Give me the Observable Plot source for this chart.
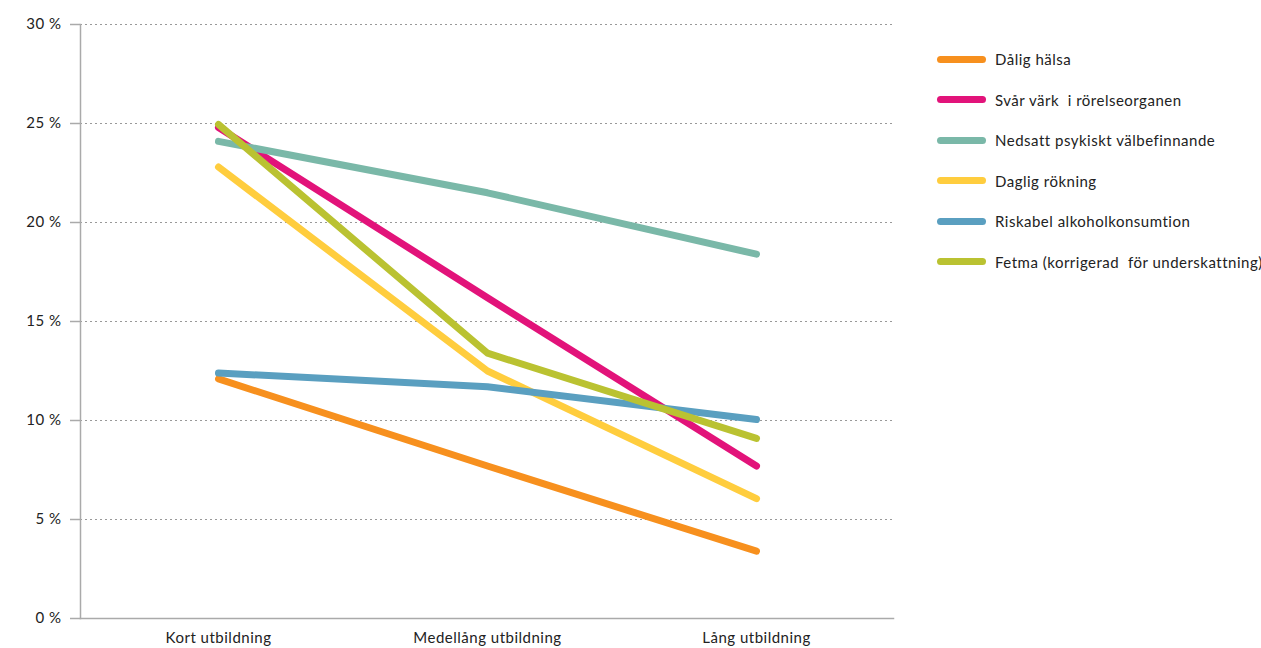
<!DOCTYPE html>
<html><head><meta charset="utf-8">
<script src="https://cdn.jsdelivr.net/npm/d3@7"></script>
<script src="https://cdn.jsdelivr.net/npm/@observablehq/plot@0.6"></script>
<style>
body{margin:0;background:#fff;font-family:Lato,"Open Sans",sans-serif;}
#wrap{position:relative;width:1261px;height:648px;}
#chart{position:absolute;left:0;top:0;}
#chart text{letter-spacing:0.5px;}
#legend{position:absolute;left:937px;top:39px;}
.item{display:flex;align-items:center;height:40.5px;font-size:15px;letter-spacing:0.5px;color:#222;white-space:pre;}
.sw{width:49px;height:7px;border-radius:4px;margin-right:9px;}
</style>
</head><body>
<div id="wrap"><div id="chart"></div><div id="legend"></div></div>
<script>
const categories = ["Kort utbildning", "Medellång utbildning", "Lång utbildning"];
const seriesNames = ["Dålig hälsa", "Svår värk  i rörelseorganen", "Nedsatt psykiskt välbefinnande", "Daglig rökning", "Riskabel alkoholkonsumtion", "Fetma (korrigerad  för underskattning)"];
const colors = ["#F7901E", "#E2137A", "#7AB8A8", "#FFCD3E", "#5A9FC0", "#BAC231"];
const daligHalsa = [12.1, 7.7, 3.4];
const svarVark = [24.8, 16.2, 7.7];
const nedsatt = [24.1, 21.5, 18.4];
const dagligRokning = [22.8, 12.5, 6.05];
const riskabel = [12.4, 11.7, 10.05];
const fetma = [24.95, 13.4, 9.1];
const yTicks = [0, 5, 10, 15, 20, 25, 30];

const allValues = [daligHalsa, svarVark, nedsatt, dagligRokning, riskabel, fetma];
const data = [];
seriesNames.forEach((s, i) => categories.forEach((c, j) => data.push({series: s, cat: c, v: allValues[i][j]})));

const chart = Plot.plot({
  width: 910, height: 648,
  marginLeft: 80, marginRight: 17, marginTop: 24, marginBottom: 30,
  style: {fontFamily: "Lato, 'Open Sans', sans-serif", fontSize: "15px", color: "#222", background: "transparent"},
  x: {type: "point", domain: categories, padding: 0.507, label: null},
  y: {domain: [0, 30], label: null},
  color: {domain: seriesNames, range: colors},
  marks: [
    Plot.gridY(yTicks.filter(d => d > 0), {stroke: "#999", strokeOpacity: 1, strokeDasharray: "2,3"}),
    Plot.frame({anchor: "left", stroke: "#aaa", strokeWidth: 1.5}),
    Plot.frame({anchor: "bottom", stroke: "#aaa", strokeWidth: 1.5}),
    Plot.axisY({ticks: yTicks, tickSize: 10, tickPadding: 9, tickFormat: d => d + " %", stroke: "#aaa", strokeWidth: 1.5, fill: "#222", fontSize: 15}),
    Plot.axisX({tickSize: 0, tickPadding: 14, fill: "#222", fontSize: 15}),
    Plot.line(data, {x: "cat", y: "v", z: "series", stroke: "series", strokeWidth: 7, strokeLinecap: "round", strokeLinejoin: "round"})
  ]
});
document.getElementById("chart").appendChild(chart);

const legend = d3.select("#legend");
seriesNames.forEach((s, i) => {
  const row = legend.append("div").attr("class", "item");
  row.append("div").attr("class", "sw").style("background", colors[i]);
  row.append("span").text(s);
});
</script>
</body></html>
